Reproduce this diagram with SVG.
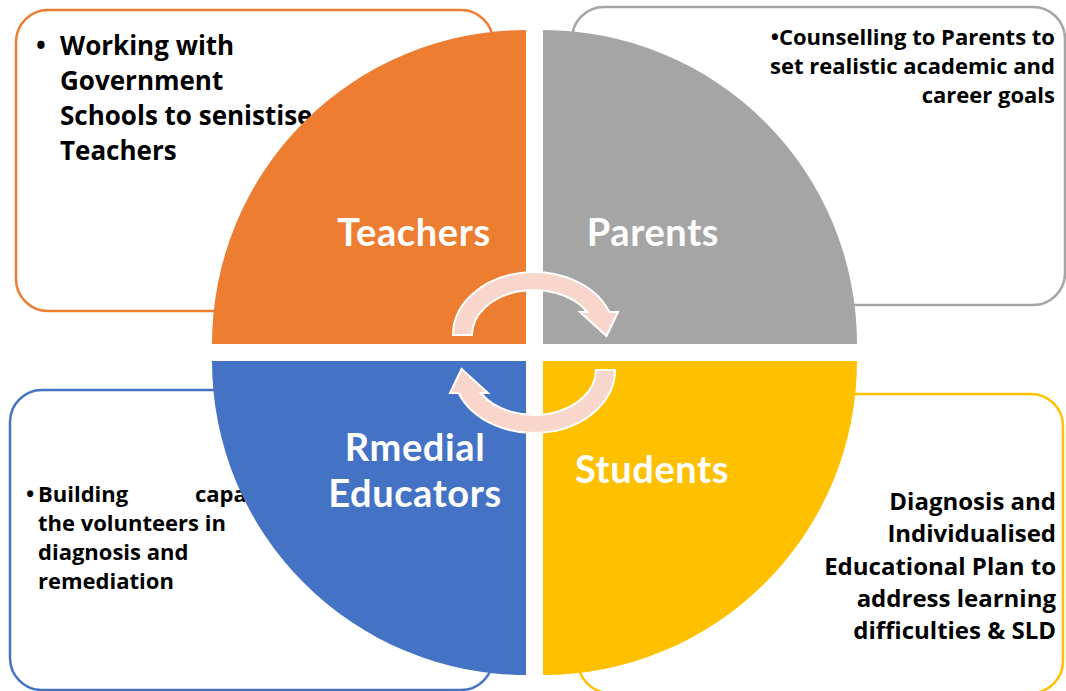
<svg xmlns="http://www.w3.org/2000/svg" width="1066" height="691" viewBox="0 0 1066 691">
  <style>
    .box { fill: #FFFFFF; stroke-width: 2.5; }
    .note { font-family: "Open Sans", Lato, "Liberation Sans", sans-serif; font-weight: bold; fill: #000000; }
    .label { font-family: Lato, "Open Sans", "Liberation Sans", sans-serif; font-weight: bold; fill: #FFFFFF; font-size: 38px; letter-spacing: 0.6px; text-anchor: middle; }
    .cycle { fill: #F8D6CC; stroke: #FFFFFF; stroke-width: 2; stroke-linejoin: miter; }
  </style>
  <rect width="1066" height="691" fill="#FFFFFF"/>

  <!-- description boxes behind the wheel -->
  <g id="box-teachers">
    <rect class="box" x="16" y="10" width="477" height="301" rx="32" stroke="#ED7D31"/>
    <g class="note" font-size="26">
      <text x="36" y="55">•</text>
      <text x="60" y="55">Working with</text>
      <text x="60" y="90">Government</text>
      <text x="60" y="125">Schools to senistise</text>
      <text x="60" y="160">Teachers</text>
    </g>
  </g>
  <g id="box-parents">
    <rect class="box" x="572" y="7" width="493" height="298" rx="32" stroke="#A5A5A5"/>
    <g class="note" font-size="22" text-anchor="end">
      <text x="1055" y="45">•Counselling to Parents to</text>
      <text x="1055" y="74">set realistic academic and</text>
      <text x="1055" y="103">career goals</text>
    </g>
  </g>
  <g id="box-educators">
    <rect class="box" x="10" y="390" width="483" height="300" rx="32" stroke="#4472C4"/>
    <g class="note" font-size="22">
      <text x="26" y="502">•</text>
      <text x="38" y="502">Building</text>
      <text x="195" y="502">capacity of</text>
      <text x="38" y="531">the volunteers in</text>
      <text x="38" y="560">diagnosis and</text>
      <text x="38" y="589">remediation</text>
    </g>
  </g>
  <g id="box-students">
    <rect class="box" x="578" y="394" width="485" height="299" rx="32" stroke="#FFC000"/>
    <g class="note" font-size="24" text-anchor="end">
      <text x="1056" y="510">Diagnosis and</text>
      <text x="1056" y="542">Individualised</text>
      <text x="1056" y="575">Educational Plan to</text>
      <text x="1056" y="607">address learning</text>
      <text x="1056" y="639">difficulties &amp; SLD</text>
    </g>
  </g>

  <!-- wheel quadrants -->
  <g id="q-teachers">
    <path d="M526,344 L212,344 A314,314 0 0 1 526,30 Z" fill="#ED7D31"/>
    <text class="label" x="414" y="246">Teachers</text>
  </g>
  <g id="q-parents">
    <path d="M543,344 L543,30 A314,314 0 0 1 857,344 Z" fill="#A5A5A5"/>
    <text class="label" x="653" y="246">Parents</text>
  </g>
  <g id="q-educators">
    <path d="M526,361 L526,675 A314,314 0 0 1 212,361 Z" fill="#4472C4"/>
    <text class="label" x="415" y="461">Rmedial</text>
    <text class="label" x="415" y="507">Educators</text>
  </g>
  <g id="q-students">
    <path d="M543,361 L857,361 A314,314 0 0 1 543,675 Z" fill="#FFC000"/>
    <text class="label" x="652" y="483">Students</text>
  </g>

  <!-- circular arrows in the middle -->
  <g id="connectors">
    <path id="cycle-top" class="cycle" d="M453,335 A81,63 0 0 1 609.4,312 L618,312 L606.5,336 L580,312 L587.3,312 A62,45 0 0 0 472,335 Z"/>
    <path id="cycle-bottom" class="cycle" transform="rotate(180 534 352.5)" d="M453,335 A81,63 0 0 1 609.4,312 L618,312 L606.5,336 L580,312 L587.3,312 A62,45 0 0 0 472,335 Z"/>
  </g>
</svg>
